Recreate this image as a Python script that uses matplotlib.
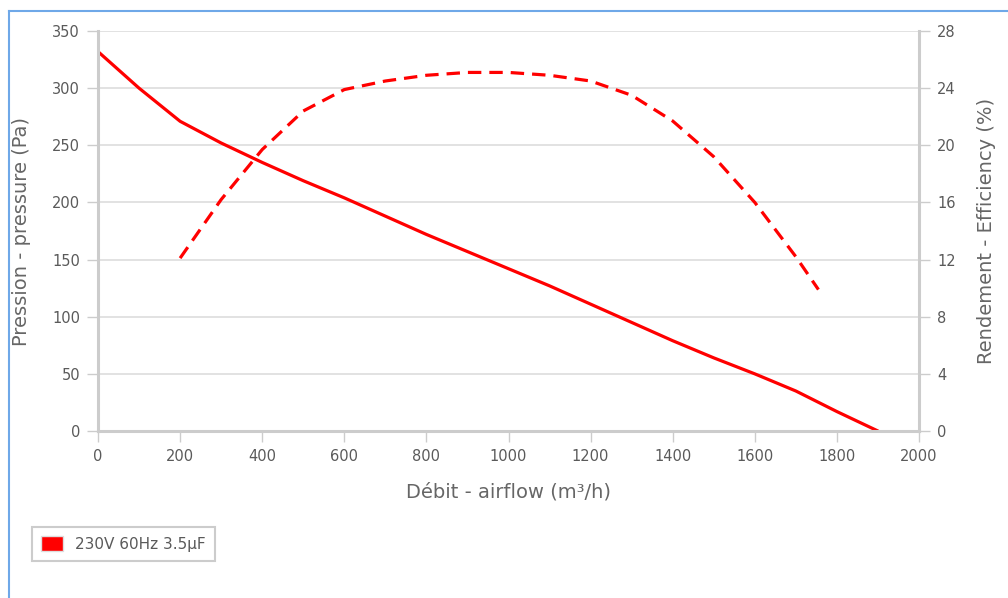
import matplotlib
matplotlib.use("Agg")
import matplotlib.pyplot as plt
from matplotlib.patches import Patch
from matplotlib.lines import Line2D

# pressure curve (Pa) vs airflow (m3/h)
airflow = [0, 100, 200, 300, 400, 500, 600, 700, 800, 900, 1000,
           1100, 1200, 1300, 1400, 1500, 1600, 1700, 1800, 1900]
pressure = [332, 300, 271, 252, 235, 219, 204, 188, 172, 157, 142,
            127, 111, 95, 79, 64, 50, 35, 17, 0]

# efficiency curve (%)
eff_airflow = [200, 300, 400, 500, 600, 700, 800, 900, 1000, 1100,
               1200, 1300, 1400, 1500, 1600, 1700, 1755]
efficiency = [12.1, 16.2, 19.7, 22.4, 23.9, 24.5, 24.9, 25.1, 25.1, 24.9,
              24.5, 23.5, 21.7, 19.2, 16.0, 12.2, 9.9]

x_ticks = list(range(0, 2001, 200))
y_ticks = list(range(0, 351, 50))
y2_ticks = list(range(0, 29, 4))
legend_label = "230V 60Hz 3.5\u00b5F"

red = "#ff0000"
grey_txt = "#5a5a5a"
label_c = "#666666"
spine_c = "#cccccc"

fig = plt.figure(figsize=(10.08, 5.98), dpi=100)
ax = fig.add_axes([98/1008, 1-431/598, (919-98)/1008, 400/598])
ax2 = ax.twinx()

ax.plot(airflow, pressure, color=red, lw=2.3, solid_capstyle="round")
ax2.plot(eff_airflow, efficiency, color=red, lw=2.3, dashes=(4.2, 2.5))

ax.set_xlim(0, 2000)
ax.set_ylim(0, 350)
ax2.set_ylim(0, 28)
ax.set_xticks(x_ticks)
ax.set_yticks(y_ticks)
ax2.set_yticks(y2_ticks)

ax.grid(axis="y", color="#dddddd", lw=1.2)
ax.set_axisbelow(True)

for a in (ax, ax2):
    a.spines["top"].set_visible(False)
    for s in ("left", "bottom", "right"):
        a.spines[s].set_color(spine_c)
        a.spines[s].set_linewidth(2.2)
    a.tick_params(colors=grey_txt, labelsize=10.5, length=8, width=1, color=spine_c, pad=5)
ax.spines["right"].set_visible(False)
ax2.spines["left"].set_visible(False)
ax2.spines["bottom"].set_visible(False)

ax.set_xlabel("Débit - airflow (m³/h)", color=label_c, fontsize=14, labelpad=13)
ax.set_ylabel("Pression - pressure (Pa)", color=label_c, fontsize=14, labelpad=15)
ax2.set_ylabel("Rendement - Efficiency (%)", color=label_c, fontsize=14, labelpad=15)

leg = fig.legend(handles=[Patch(facecolor=red, edgecolor="#dddddd", label=legend_label)],
                 loc="upper left", bbox_to_anchor=(32/1008, 1-527/598), borderaxespad=0,
                 fancybox=False, framealpha=1, edgecolor="#cccccc", fontsize=11,
                 handlelength=1.4, handleheight=1.1, borderpad=0.6, labelcolor=grey_txt)
leg.get_frame().set_linewidth(1.5)

# blue frame at the edge
fig.add_artist(Line2D([8.5/1008, 8.5/1008], [0, 1-11/598], color="#6fa8e8", lw=1.5))
fig.add_artist(Line2D([8.5/1008, 1], [1-11/598, 1-11/598], color="#6fa8e8", lw=1.5))

fig.savefig("out.png", dpi=100)
